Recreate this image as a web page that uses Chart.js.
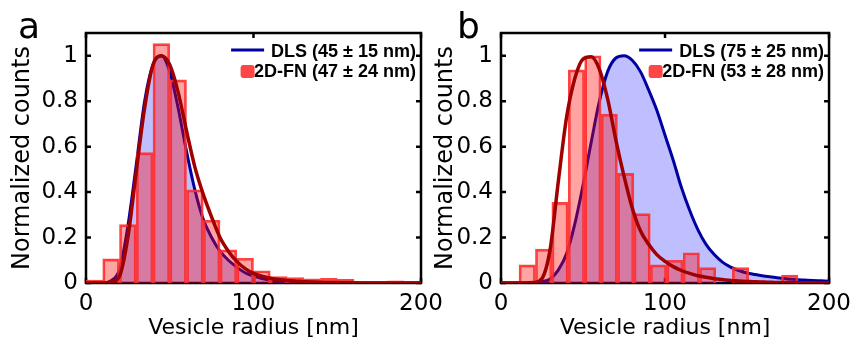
<!DOCTYPE html>
<html>
<head>
<meta charset="utf-8">
<script src="https://cdn.jsdelivr.net/npm/chart.js@4.4.0/dist/chart.umd.min.js"></script>
<style>
html, body { margin: 0; padding: 0; background: #fff; }
#wrap { position: relative; width: 858px; height: 339px; overflow: hidden; }
canvas { position: absolute; top: 0; }
#ca { left: 0; }
#cb { left: 430px; }
.lbl { position: absolute; top: 8px; font: 36px "DejaVu Sans"; line-height: 36px; color: #000; }
</style>
</head>
<body>
<div id="wrap">
  <canvas id="ca" width="450" height="339"></canvas>
  <canvas id="cb" width="428" height="339"></canvas>
  <div class="lbl" style="left:18px">a</div>
  <div class="lbl" style="left:457px">b</div>
</div>
<script>
// sample grid of the fitted curves (nm)
var radius = [0,5,10,15,20,25,30,35,40,45,50,55,60,65,70,75,80,85,90,95,100,
              105,110,115,120,125,130,135,140,145,150,155,160,165,170,175,180,185,190,195,200]
var xTicks = [0, 100, 200]
var yTicks = [0, 0.2, 0.4, 0.6, 0.8, 1]

// panel a
var dlsA = [0,0,0,0.01,0.06,0.25,0.52,0.8,0.96,1.0,0.93,0.77,0.58,0.41,0.28,0.2,0.14,0.1,0.07,0.045,0.03,
            0.02,0.013,0.008,0.005,0.003,0.002,0.001,0,0,0,0,0,0,0,0,0,0,0,0,0]
var fitA = [0,0,0,0.005,0.03,0.2,0.49,0.77,0.96,1.0,0.96,0.84,0.67,0.51,0.39,0.29,0.2,0.14,0.095,0.063,0.042,
            0.03,0.021,0.015,0.011,0.008,0.006,0.004,0.003,0.002,0.002,0.001,0.001,0,0,0,0,0,0,0,0]
var binsA = [5,15,25,35,45,55,65,75,85,95,105,115,125,135,145,155,165,175,185,195]
var countsA = [0.013,0.106,0.257,0.574,1.053,0.894,0.41,0.276,0.146,0.109,0.054,0.028,0.024,0.018,0.02,0.016,0.006,0.003,0.01,0.003]

// panel b
var dlsB = [0,0,0,0,0.002,0.006,0.018,0.058,0.13,0.26,0.43,0.62,0.8,0.93,0.99,1.0,0.98,0.93,0.85,0.76,0.65,
            0.54,0.42,0.32,0.235,0.17,0.125,0.092,0.07,0.055,0.044,0.037,0.031,0.026,0.022,0.018,0.015,0.013,0.011,0.0095,0.008]
var fitB = [0,0,0,0,0.002,0.02,0.15,0.45,0.73,0.9,0.985,0.995,0.94,0.81,0.63,0.47,0.33,0.23,0.17,0.125,0.095,
            0.072,0.055,0.042,0.032,0.025,0.019,0.015,0.011,0.009,0.007,0.005,0.004,0.003,0.002,0.002,0.001,0.001,0.001,0,0]
var binsB = [16,26,36,46,56,66,76,86,96,106,116,126,136,146,156,166,176]
var countsB = [0.08,0.149,0.355,0.938,1.0,0.743,0.482,0.305,0.08,0.1,0.133,0.068,null,0.068,null,null,0.035]

var FONT = 'DejaVu Sans'

// box with inward tick marks
var frame = {
    id: 'frame',
    beforeDatasetsDraw: function(chart) {
        var c = chart.ctx, a = chart.chartArea, sx = chart.scales.x, sy = chart.scales.y
        c.save()
        c.strokeStyle = '#000'
        c.lineWidth = 2.5
        c.strokeRect(a.left, a.top, a.right - a.left, a.bottom - a.top)
        c.beginPath()
        sy.ticks.forEach(function(t) {
            var y = sy.getPixelForValue(t.value)
            c.moveTo(a.left, y); c.lineTo(a.left + 5, y)
            c.moveTo(a.right, y); c.lineTo(a.right - 5, y)
        })
        sx.ticks.forEach(function(t) {
            var x = sx.getPixelForValue(t.value)
            c.moveTo(x, a.top); c.lineTo(x, a.top + 5)
            c.moveTo(x, a.bottom); c.lineTo(x, a.bottom - 5)
        })
        c.stroke()
        c.restore()
    }
}

// legend in the top right corner of the plot
var legendBox = {
    id: 'legendBox',
    afterDraw: function(chart) {
        var c = chart.ctx, a = chart.chartArea, ds = chart.data.datasets
        var dls = ds[2].label, fn = ds[1].label
        c.save()
        c.font = 'bold 18px "Liberation Sans"'
        c.textAlign = 'right'
        c.textBaseline = 'middle'
        c.fillStyle = '#000'
        var right = a.right - 5
        var w1 = c.measureText(dls).width
        c.fillText(dls, right, a.top + 19)
        c.fillText(fn, right, a.top + 39)
        var lineEnd = right - w1 - 7, lineStart = lineEnd - 33, mid = (lineStart + lineEnd) / 2
        c.strokeStyle = '#0000a0'
        c.lineWidth = 3
        c.beginPath(); c.moveTo(lineStart, a.top + 17); c.lineTo(lineEnd, a.top + 17); c.stroke()
        c.fillStyle = 'rgba(255,50,50,0.9)'
        c.beginPath(); c.roundRect(mid - 7, a.top + 32, 14, 13, 3); c.fill()
        c.restore()
    }
}

function makePanel(id, p) {
    return new Chart(document.getElementById(id), {
        type: 'bar',
        data: {
            datasets: [
                {
                    type: 'line', label: 'fit',
                    data: radius.map(function(r, i) { return {x: r, y: p.fit[i]} }),
                    borderColor: '#a00000', borderWidth: 3.5, pointRadius: 0,
                    cubicInterpolationMode: 'monotone', fill: false, order: 0
                },
                {
                    type: 'bar', label: p.fnLabel,
                    data: p.bins.map(function(b, i) { return {x: b, y: p.counts[i]} }),
                    backgroundColor: 'rgba(255,0,0,0.36)', borderColor: 'rgba(255,45,45,0.9)',
                    borderWidth: 2, barPercentage: 1, categoryPercentage: 1, order: 1
                },
                {
                    type: 'line', label: p.dlsLabel,
                    data: radius.map(function(r, i) { return {x: r, y: p.dls[i]} }),
                    borderColor: '#0000a0', borderWidth: 3, pointRadius: 0,
                    backgroundColor: 'rgba(0,0,255,0.25)', fill: 'origin',
                    cubicInterpolationMode: 'monotone', order: 2
                }
            ]
        },
        options: {
            responsive: false,
            animation: false,
            layout: { padding: { top: 33, right: p.padRight, bottom: 0, left: 0 } },
            plugins: { legend: { display: false }, tooltip: { enabled: false } },
            scales: {
                x: {
                    type: 'linear', min: 0, max: 200, offset: false,
                    ticks: { color: '#000', padding: 7, maxRotation: 0, font: { family: FONT, size: 23 } },
                    afterBuildTicks: function(s) { s.ticks = xTicks.map(function(v) { return {value: v} }) },
                    grid: { display: false, drawTicks: false },
                    border: { display: false },
                    title: { display: true, text: 'Vesicle radius [nm]', color: '#000', padding: 0,
                             font: { family: FONT, size: 22, lineHeight: 1 } },
                    afterFit: function(s) { s.height = 56 }
                },
                y: {
                    min: 0, max: 1.1,
                    ticks: { color: '#000', padding: 8, font: { family: FONT, size: 23 },
                             callback: function(v) { return String(Math.round(v * 10) / 10) } },
                    afterBuildTicks: function(s) { s.ticks = yTicks.map(function(v) { return {value: v} }) },
                    grid: { display: false, drawTicks: false },
                    border: { display: false },
                    title: { display: true, text: 'Normalized counts', color: '#000',
                             padding: { top: p.titlePad, bottom: 0 },
                             font: { family: FONT, size: 24, lineHeight: 1 } },
                    afterFit: function(s) { s.width = p.yWidth }
                }
            }
        },
        plugins: [frame, legendBox]
    })
}

makePanel('ca', {
    dls: dlsA, fit: fitA, bins: binsA, counts: countsA,
    dlsLabel: 'DLS (45 ± 15 nm)', fnLabel: '2D-FN (47 ± 24 nm)',
    yWidth: 86, padRight: 29, titlePad: 11
})
makePanel('cb', {
    dls: dlsB, fit: fitB, bins: binsB, counts: countsB,
    dlsLabel: 'DLS (75 ± 25 nm)', fnLabel: '2D-FN (53 ± 28 nm)',
    yWidth: 71, padRight: 21, titlePad: 4
})
</script>
</body>
</html>
